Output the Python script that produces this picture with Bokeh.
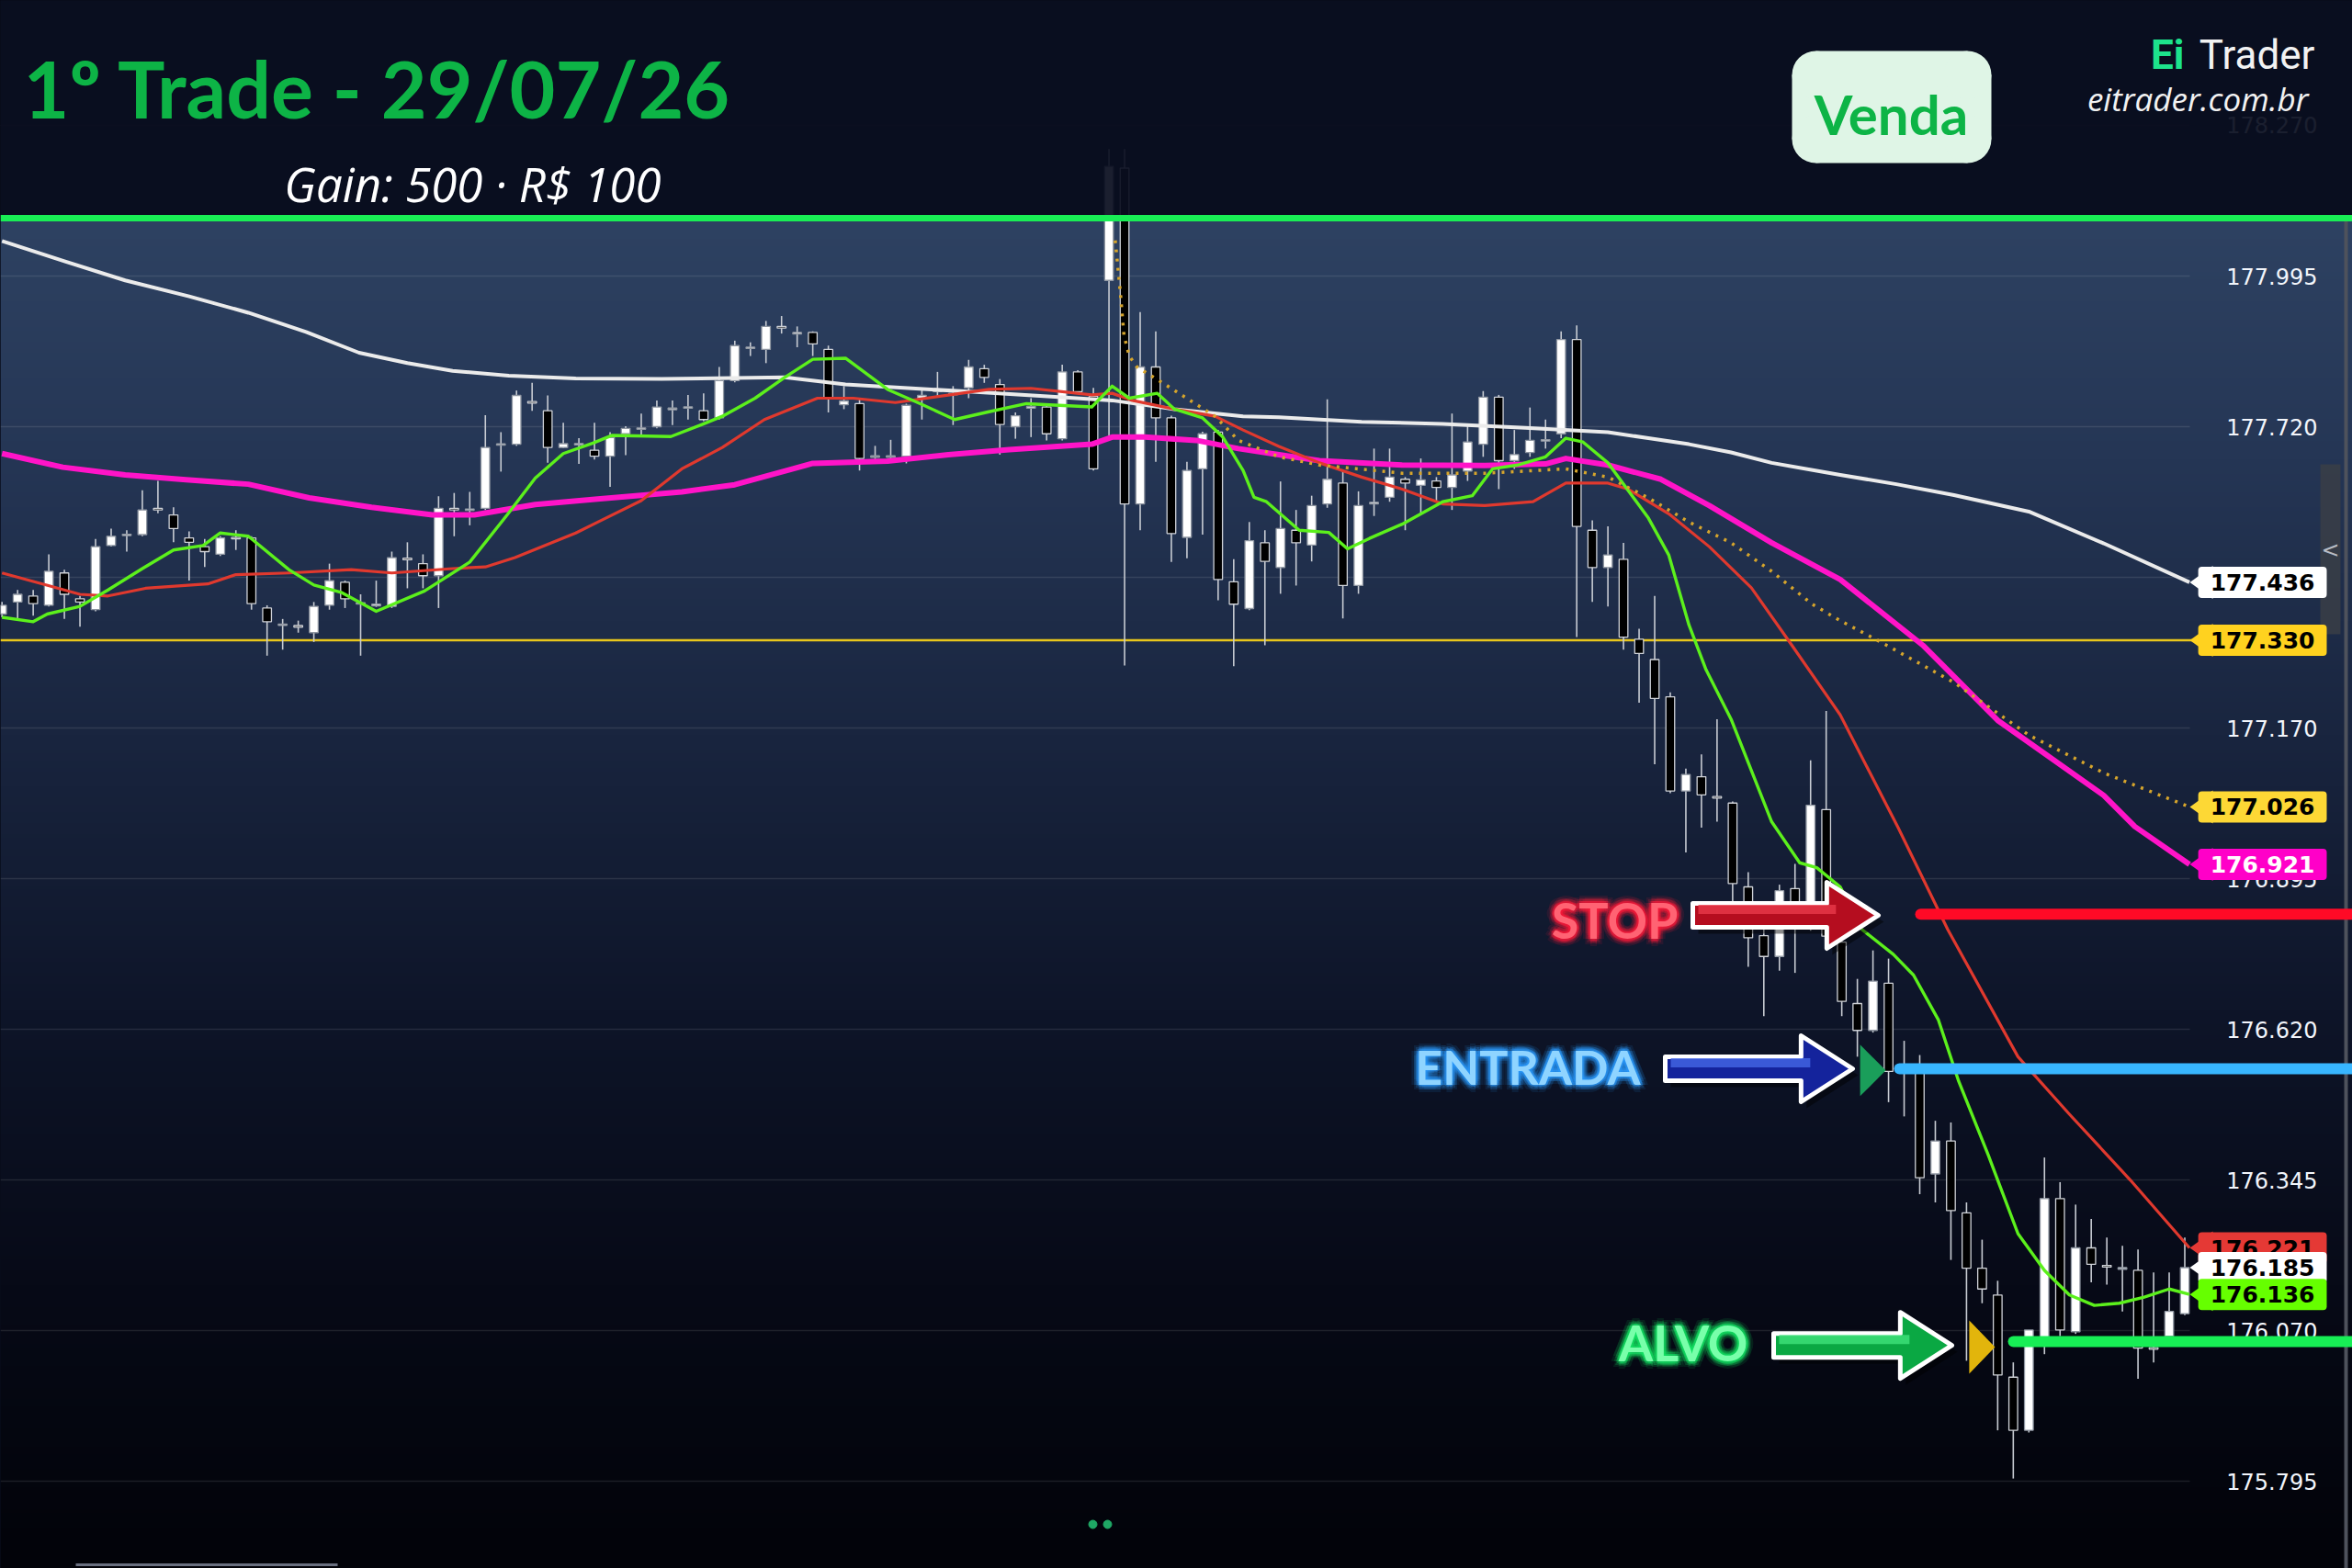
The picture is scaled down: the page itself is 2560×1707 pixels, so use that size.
import numpy as np
from bokeh.plotting import figure
from bokeh.models import Range1d, Label, GlobalInlineStyleSheet
from bokeh.core.properties import value
from bokeh.embed import file_html
from bokeh.resources import INLINE

# ---------------- data ----------------
opens = [177.378, 177.400, 177.411, 177.394, 177.453, 177.406, 177.386, 177.503, 177.522, 177.523,
         177.571, 177.559, 177.517, 177.501, 177.487, 177.517, 177.517, 177.389, 177.358, 177.357,
         177.344, 177.394, 177.436, 177.397, 177.393, 177.392, 177.480, 177.470, 177.448, 177.571,
         177.568, 177.571, 177.687, 177.688, 177.766, 177.749, 177.682, 177.687, 177.677, 177.666,
         177.707, 177.716, 177.720, 177.751, 177.754, 177.749, 177.736, 177.804, 177.863, 177.861,
         177.903, 177.889, 177.892, 177.861, 177.760, 177.762, 177.665, 177.665, 177.666, 177.772,
         177.784, 177.778, 177.791, 177.826, 177.797, 177.720, 177.754, 177.756, 177.698, 177.820,
         177.775, 177.987, 178.192, 177.579, 177.829, 177.736, 177.518, 177.643, 177.710, 177.437,
         177.388, 177.508, 177.463, 177.531, 177.504, 177.579, 177.617, 177.430, 177.579, 177.591,
         177.624, 177.613, 177.621, 177.609, 177.639, 177.688, 177.774, 177.658, 177.673, 177.694,
         177.707, 177.879, 177.531, 177.463, 177.478, 177.332, 177.295, 177.227, 177.055, 177.081,
         177.045, 177.033, 176.880, 176.791, 176.753, 176.877, 176.840, 177.021, 176.779, 176.667,
         176.618, 176.704, 176.547, 176.555, 176.356, 176.416, 176.285, 176.184, 176.135, 175.985,
         175.888, 176.042, 176.311, 176.068, 176.221, 176.189, 176.182, 176.180, 176.039, 176.060,
         176.101]
highs = [177.400, 177.422, 177.422, 177.487, 177.459, 177.411, 177.515, 177.534, 177.531, 177.604,
         177.621, 177.573, 177.529, 177.515, 177.520, 177.531, 177.520, 177.394, 177.369, 177.366,
         177.400, 177.470, 177.439, 177.414, 177.439, 177.492, 177.509, 177.487, 177.593, 177.599,
         177.601, 177.741, 177.710, 177.786, 177.800, 177.777, 177.727, 177.699, 177.727, 177.710,
         177.721, 177.744, 177.768, 177.768, 177.778, 177.781, 177.829, 177.877, 177.874, 177.913,
         177.922, 177.903, 177.894, 177.868, 177.794, 177.772, 177.685, 177.696, 177.762, 177.788,
         177.820, 177.794, 177.842, 177.833, 177.807, 177.746, 177.772, 177.762, 177.833, 177.823,
         177.791, 178.227, 178.227, 177.929, 177.894, 177.740, 177.656, 177.711, 177.714, 177.478,
         177.546, 177.531, 177.620, 177.568, 177.594, 177.770, 177.639, 177.602, 177.680, 177.680,
         177.628, 177.662, 177.628, 177.744, 177.725, 177.785, 177.778, 177.714, 177.755, 177.733,
         177.894, 177.905, 177.549, 177.538, 177.508, 177.351, 177.411, 177.235, 177.096, 177.122,
         177.186, 177.036, 176.907, 176.809, 176.884, 176.922, 177.111, 177.201, 176.877, 176.712,
         176.764, 176.749, 176.599, 176.573, 176.453, 176.450, 176.304, 176.236, 176.161, 176.012,
         176.071, 176.386, 176.341, 176.300, 176.274, 176.240, 176.225, 176.218, 176.176, 176.176,
         176.240]
lows = [177.372, 177.369, 177.375, 177.392, 177.369, 177.355, 177.383, 177.501, 177.492, 177.520,
        177.562, 177.509, 177.439, 177.464, 177.484, 177.495, 177.386, 177.302, 177.313, 177.344,
        177.327, 177.386, 177.389, 177.302, 177.391, 177.389, 177.425, 177.425, 177.389, 177.520,
        177.540, 177.568, 177.638, 177.685, 177.749, 177.654, 177.681, 177.652, 177.660, 177.610,
        177.668, 177.705, 177.717, 177.723, 177.733, 177.730, 177.733, 177.801, 177.849, 177.836,
        177.890, 177.865, 177.849, 177.746, 177.752, 177.640, 177.661, 177.662, 177.653, 177.733,
        177.775, 177.723, 177.772, 177.800, 177.669, 177.698, 177.701, 177.695, 177.695, 177.781,
        177.640, 177.704, 177.284, 177.531, 177.656, 177.473, 177.480, 177.523, 177.403, 177.283,
        177.385, 177.321, 177.415, 177.430, 177.474, 177.572, 177.370, 177.415, 177.557, 177.583,
        177.531, 177.561, 177.583, 177.568, 177.621, 177.665, 177.606, 177.643, 177.665, 177.680,
        177.699, 177.336, 177.400, 177.392, 177.313, 177.216, 177.104, 177.051, 176.943, 176.988,
        176.999, 176.827, 176.734, 176.644, 176.727, 176.723, 176.800, 176.770, 176.644, 176.570,
        176.614, 176.487, 176.461, 176.319, 176.304, 176.199, 176.015, 176.120, 175.888, 175.800,
        175.884, 176.027, 176.060, 176.064, 176.158, 176.154, 176.105, 175.982, 176.012, 176.053,
        176.098]
closes = [177.394, 177.414, 177.397, 177.456, 177.414, 177.400, 177.501, 177.520, 177.523, 177.568,
          177.568, 177.534, 177.509, 177.492, 177.517, 177.516, 177.397, 177.364, 177.359, 177.354,
          177.392, 177.439, 177.406, 177.398, 177.396, 177.481, 177.477, 177.448, 177.571, 177.568,
          177.569, 177.682, 177.688, 177.777, 177.763, 177.682, 177.689, 177.689, 177.666, 177.700,
          177.717, 177.717, 177.756, 177.754, 177.756, 177.733, 177.804, 177.868, 177.865, 177.903,
          177.900, 177.892, 177.871, 177.772, 177.767, 177.662, 177.666, 177.666, 177.759, 177.777,
          177.788, 177.781, 177.829, 177.810, 177.724, 177.740, 177.757, 177.707, 177.820, 177.784,
          177.643, 178.195, 177.579, 177.829, 177.736, 177.525, 177.640, 177.707, 177.441, 177.396,
          177.512, 177.474, 177.534, 177.508, 177.576, 177.624, 177.430, 177.576, 177.582, 177.628,
          177.617, 177.623, 177.609, 177.632, 177.692, 177.774, 177.658, 177.669, 177.695, 177.696,
          177.879, 177.538, 177.463, 177.486, 177.336, 177.306, 177.224, 177.055, 177.085, 177.048,
          177.042, 176.886, 176.787, 176.753, 176.873, 176.850, 177.029, 176.790, 176.671, 176.618,
          176.708, 176.543, 176.551, 176.349, 176.416, 176.289, 176.184, 176.146, 175.989, 175.888,
          176.071, 176.311, 176.071, 176.221, 176.191, 176.186, 176.185, 176.038, 176.036, 176.105,
          176.185]

# moving averages: (bar position, price)
ma_white_x = [0, 4.0, 7.9, 12.0, 15.8, 19.5, 22.9, 26.0, 28.9, 32.5, 36.8, 42.3, 50.2, 54.1, 62.0, 67.3,
              71.2, 75.2, 79.6, 81.9, 87.2, 92.4, 97.7, 103.0, 105.6, 108.2, 110.9, 113.5, 117.9, 121.5,
              125.2, 130.0, 134.8, 140.3]
ma_white_y = [178.059, 178.022, 177.987, 177.958, 177.928, 177.893, 177.855, 177.836, 177.822, 177.813,
              177.808, 177.807, 177.810, 177.797, 177.784, 177.775, 177.768, 177.752, 177.739, 177.737,
              177.729, 177.725, 177.718, 177.710, 177.699, 177.688, 177.673, 177.654, 177.632, 177.615,
              177.595, 177.565, 177.507, 177.436]
ma_magenta_x = [0, 3.9, 7.9, 11.8, 15.8, 19.7, 23.7, 27.6, 30.3, 34.2, 38.2, 43.6, 47.0, 52.0, 56.8,
                60.7, 64.6, 69.9, 71.2, 73.3, 76.6, 79.3, 81.9, 84.5, 89.8, 95.1, 99.0, 100.3, 103.0,
                106.4, 109.5, 113.5, 117.9, 123.2, 128.0, 134.8, 136.8, 140.3]
ma_magenta_y = [177.671, 177.646, 177.632, 177.623, 177.615, 177.590, 177.573, 177.559, 177.559, 177.578,
                177.588, 177.601, 177.614, 177.653, 177.657, 177.669, 177.678, 177.688, 177.701, 177.701,
                177.695, 177.680, 177.669, 177.658, 177.650, 177.649, 177.652, 177.662, 177.650, 177.624,
                177.576, 177.508, 177.441, 177.321, 177.184, 177.047, 176.990, 176.921]
ma_red_x = [0, 2.6, 5.0, 6.8, 9.2, 13.2, 15.0, 18.4, 22.4, 25.0, 28.9, 31.0, 32.9, 36.8, 38.3, 41.0,
            43.6, 46.2, 48.9, 52.3, 54.6, 57.3, 61.0, 63.3, 66.0, 69.9, 71.2, 72.5, 75.2, 77.8, 79.6,
            81.9, 84.5, 87.2, 89.8, 92.4, 95.1, 98.2, 100.3, 103.0, 104.3, 106.9, 109.5, 112.2, 114.8,
            117.9, 121.6, 124.8, 129.3, 132.6, 136.5, 140.3]
ma_red_y = [177.453, 177.433, 177.414, 177.411, 177.425, 177.433, 177.450, 177.453, 177.459, 177.453,
            177.461, 177.464, 177.481, 177.526, 177.547, 177.585, 177.643, 177.682, 177.733, 177.772,
            177.772, 177.764, 177.779, 177.788, 177.790, 177.778, 177.781, 177.768, 177.752, 177.739,
            177.714, 177.684, 177.654, 177.628, 177.606, 177.579, 177.576, 177.583, 177.617, 177.617,
            177.606, 177.561, 177.501, 177.426, 177.321, 177.194, 176.989, 176.802, 176.570, 176.465,
            176.345, 176.221]
ma_green_x = [0, 2.0, 2.9, 5.0, 6.8, 9.0, 11.0, 12.9, 14.0, 15.8, 18.4, 20.0, 21.8, 24.0, 27.1, 30.0,
              32.4, 34.2, 36.0, 37.9, 39.1, 42.9, 44.9, 46.2, 48.3, 50.2, 52.0, 54.1, 56.8, 58.9, 61.1,
              63.1, 65.7, 69.9, 71.2, 72.3, 74.1, 75.2, 77.0, 78.3, 79.6, 80.3, 81.1, 83.2, 85.1, 86.3,
              87.7, 89.8, 92.4, 94.3, 95.6, 97.2, 99.0, 100.3, 101.4, 103.0, 105.6, 106.9, 108.2, 109.3,
              110.9, 113.5, 115.3, 116.4, 117.9, 119.3, 121.3, 122.6, 124.2, 125.5, 127.4, 129.3, 131.0,
              132.6, 134.2, 135.8, 137.4, 139.0, 140.3]
ma_green_y = [177.372, 177.364, 177.378, 177.392, 177.422, 177.461, 177.495, 177.503, 177.526, 177.520,
              177.459, 177.431, 177.417, 177.383, 177.420, 177.473, 177.559, 177.626, 177.671, 177.690,
              177.704, 177.702, 177.724, 177.739, 177.772, 177.810, 177.843, 177.845, 177.788, 177.762,
              177.733, 177.746, 177.762, 177.756, 177.794, 177.772, 177.781, 177.752, 177.736, 177.701,
              177.640, 177.591, 177.583, 177.531, 177.527, 177.497, 177.516, 177.542, 177.583, 177.594,
              177.643, 177.650, 177.665, 177.699, 177.692, 177.654, 177.553, 177.486, 177.358, 177.276,
              177.186, 176.999, 176.924, 176.915, 176.880, 176.802, 176.757, 176.719, 176.637, 176.525,
              176.390, 176.247, 176.180, 176.135, 176.116, 176.120, 176.131, 176.146, 176.136]
ma_dotted_x = [71.4, 71.75, 71.96, 72.3, 72.8, 74.6, 76.2, 77.8, 79.3, 81.9, 84.5, 89.8, 95.1, 100.3,
               103.0, 105.6, 108.2, 110.9, 113.5, 116.1, 117.9, 120.3, 125.2, 130.0, 134.8, 140.3]
ma_dotted_y = [178.060, 177.958, 177.887, 177.849, 177.829, 177.797, 177.768, 177.739, 177.695, 177.665,
               177.650, 177.635, 177.635, 177.643, 177.628, 177.590, 177.546, 177.508, 177.456, 177.396,
               177.366, 177.330, 177.253, 177.157, 177.088, 177.026]

price_ticks = [178.270, 177.995, 177.720, 177.445, 177.170, 176.895, 176.620, 176.345, 176.070, 175.795]
tag_values = [177.436, 177.330, 177.026, 176.921, 176.221, 176.185, 176.136]
tag_labels = ["177.436", "177.330", "177.026", "176.921", "176.221", "176.185", "176.136"]
tag_fill = ["#ffffff", "#ffd21f", "#fdd835", "#ff00c8", "#e53935", "#ffffff", "#66ff00"]
tag_text_color = ["#000000", "#000000", "#000000", "#ffffff", "#000000", "#000000", "#000000"]

level_yellow = 177.330
stop_level = 176.830
entry_level = 176.548
target_level = 176.050
entry_bar, entry_price = 120, 176.545
target_bar, target_price = 127, 176.040

title_text = "1º Trade - 29/07/26"
subtitle_text = "Gain: 500 · R$ 100"
side_text = "Venda"

# ---------------- layout helpers ----------------
W, H = 2560, 1707
STEP = 16.97            # pixels per bar
X0 = -0.1
X1 = X0 + W / STEP
PPP = 596.4             # pixels per price unit
P_REF, Y_REF = 177.995, 300.0
Y_TOP = P_REF + Y_REF / PPP
Y_BOT = P_REF - (H - Y_REF) / PPP


def xr(px):
    return X0 + px / STEP


def yr(py):
    return P_REF - (py - Y_REF) / PPP


HEAD_FONT = "Lato"

p = figure(width=W, height=H, x_range=Range1d(X0, X1), y_range=Range1d(Y_BOT, Y_TOP),
           output_backend="svg", toolbar_location=None, min_border=0,
           x_axis_location=None, y_axis_location=None)
p.outline_line_color = None
p.background_fill_color = "#0a0e1f"
p.border_fill_color = "#0a0e1f"
p.xgrid.visible = False
p.ygrid.visible = False
p.stylesheets = [GlobalInlineStyleSheet(
    css="html,body{margin:0;padding:0;overflow:hidden;background:#070a16;}")]

# background gradient
stops_y = [240, 500, 800, 1100, 1400, 1707]
stops_c = [(46, 66, 98), (37, 54, 85), (25, 37, 63), (14, 21, 41), (7, 10, 23), (2, 3, 9)]
N = 367
ycent = 1707 - (np.arange(N) + 0.5) * (1707 - 240) / N
img = np.zeros((N, 2), dtype=np.uint32)
view = img.view(dtype=np.uint8).reshape((N, 2, 4))
for k in range(3):
    ch = np.interp(ycent, stops_y, [c[k] for c in stops_c])
    view[:, :, k] = ch.astype(np.uint8)[:, None]
view[:, :, 3] = 255
p.image_rgba(image=[img], x=X0, y=yr(1707), dw=X1 - X0, dh=yr(240) - yr(1707))

# grid + tick labels
p.segment(x0=X0, x1=xr(2383), y0=price_ticks, y1=price_ticks, line_color="#ffffff",
          line_alpha=0.10, line_width=1.5)
p.text(x=xr(2522), y=price_ticks, text=[f"{v:.3f}" for v in price_ticks], text_align="right",
       text_baseline="middle", text_font=value("DejaVu Sans"), text_font_size="24px",
       text_color="#f2f5fb")

# right edge scrollbar
p.segment(x0=xr(2553), x1=xr(2553), y0=Y_BOT, y1=yr(240), line_color="#4e525c", line_width=4)
p.quad(left=xr(2525), right=xr(2547), bottom=yr(690), top=yr(505), fill_color="#3a3e47",
       fill_alpha=0.85, line_color=None)
p.text(x=xr(2536), y=yr(598), text=["<"], text_align="center", text_baseline="middle",
       text_font=value("DejaVu Sans"), text_font_size="24px", text_color="#b8bcc4")

# yellow level
p.segment(x0=X0, x1=xr(2386), y0=level_yellow, y1=level_yellow, line_color="#e8c61c", line_width=2.5)

# candles
n = len(opens)
bar = np.arange(n)
o = np.array(opens); c = np.array(closes); hi = np.array(highs); lo = np.array(lows)
top = np.maximum(o, c); bot = np.minimum(o, c)
mid = (top + bot) / 2
small = (top - bot) < 0.0025
top = np.where(small, mid + 0.00125, top)
bot = np.where(small, mid - 0.00125, bot)
up = c >= o
p.segment(x0=bar, x1=bar, y0=hi, y1=lo, line_color="#c8ccd3", line_width=1.6)
p.vbar(x=bar, top=top, bottom=bot, width=0.56,
       fill_color=["#ffffff" if u else "#000000" for u in up],
       line_color=["#9097a2" if u else "#cfd2d8" for u in up], line_width=1.3)

# moving averages
p.line(ma_white_x, ma_white_y, line_color="#ebebeb", line_width=4, line_join="round")
p.line(ma_magenta_x, ma_magenta_y, line_color="#ff14c8", line_width=6, line_join="round")
p.line(ma_red_x, ma_red_y, line_color="#e0392e", line_width=3.2, line_join="round")
p.line(ma_green_x, ma_green_y, line_color="#5cf01c", line_width=3.4, line_join="round")
p.line(ma_dotted_x, ma_dotted_y, line_color="#d6a52c", line_width=3.5, line_dash="3 7")

# header overlay
p.quad(left=X0, right=X1, bottom=yr(234), top=Y_TOP + 0.1, fill_color="#0a0e1f",
       fill_alpha=0.93, line_color=None)
p.segment(x0=X0, x1=X1, y0=yr(237), y1=yr(237), line_color="#19ee55", line_width=7)

# trade levels
p.segment(x0=xr(2090), x1=X1 + 1, y0=stop_level, y1=stop_level, line_color="#ff0a26",
          line_width=12, line_cap="round")
p.segment(x0=xr(2067), x1=X1 + 1, y0=entry_level, y1=entry_level, line_color="#38b6ff",
          line_width=12, line_cap="round")
p.segment(x0=xr(2191), x1=X1 + 1, y0=target_level, y1=target_level, line_color="#17ee55",
          line_width=12, line_cap="round")


# signal triangles
def tri_right(bx, price, w_px, h_px):
    xs = [bx - (w_px / 2) / STEP, bx - (w_px / 2) / STEP, bx + (w_px / 2) / STEP]
    ys = [price + (h_px / 2) / PPP, price - (h_px / 2) / PPP, price]
    return xs, ys


ex, ey = tri_right(entry_bar, entry_price, 28, 56)
p.patch(ex, ey, fill_color="#1a9e5a", line_color=None)
tx, ty = tri_right(target_bar, target_price, 28, 58)
p.patch(tx, ty, fill_color="#e2b50c", line_color=None)


# arrows
def arrow(tail, tip, price, fill, light, shaft=26, head=72):
    base = tip - head * 0.78
    pts = [(tail, shaft / 2), (base, shaft / 2), (base, head / 2), (tip, 0),
           (base, -head / 2), (base, -shaft / 2), (tail, -shaft / 2)]
    for dx, dy, col, alpha, lw in [(6, -7, "#000000", 0.45, 6), (0, 0, fill, 1.0, 5)]:
        xs = [xr(px + dx) for px, _ in pts]
        ys = [price + (py + dy) / PPP for _, py in pts]
        p.patch(xs, ys, fill_color=col, fill_alpha=alpha,
                line_color="#ffffff" if alpha == 1.0 else None, line_width=lw, line_join="round")
    p.segment(x0=xr(tail + 6), x1=xr(base + 10), y0=price + (shaft / 4) / PPP,
              y1=price + (shaft / 4) / PPP, line_color=light, line_width=shaft / 2.6, line_alpha=0.8)


arrow(1842, 2044, 176.828, "#b50d1f", "#e8394a")
arrow(1812, 2016, 176.548, "#14239c", "#4466e6")
arrow(1930, 2124, 176.043, "#0aa843", "#3ee27a")


# glowing words (right edge just before each arrow)
def glow(text, xpx, ypx, core, halo, size):
    for r, a in [(8, 0.10), (5, 0.18), (2.5, 0.30)]:
        for k in range(8):
            ang = k * np.pi / 4
            p.add_layout(Label(x=xr(xpx), y=yr(ypx), x_offset=r * np.cos(ang), y_offset=r * np.sin(ang),
                               text=text, text_color=halo, text_alpha=a, text_font=HEAD_FONT,
                               text_font_style="bold", text_font_size=f"{size}px",
                               text_align="right", text_baseline="middle"))
    p.add_layout(Label(x=xr(xpx), y=yr(ypx), text=text, text_color=core, text_font=HEAD_FONT,
                       text_font_style="bold", text_font_size=f"{size}px",
                       text_align="right", text_baseline="middle"))


glow("STOP", 1826, 1001, "#ff6373", "#ff1a3a", 54)
glow("ENTRADA", 1785, 1160, "#8fd4ff", "#2a9dff", 52)
glow("ALVO", 1902, 1461, "#78ffaa", "#14e866", 54)

# right-side value tags
pxs, pys = [], []
for v in tag_values:
    pxs.append([xr(2383), xr(2408), xr(2408)])
    pys.append([v, v + 18 / PPP, v - 18 / PPP])
p.patches(pxs, pys, fill_color=tag_fill, line_color=None)
p.text(x=xr(2532), y=tag_values, text=tag_labels, text_align="right", text_baseline="middle",
       text_font=value("DejaVu Sans"), text_font_style="bold", text_font_size="25px",
       text_color=tag_text_color, background_fill_color=tag_fill, padding=(13, 8), border_radius=4)

# bottom decorations
p.scatter(x=[xr(1189), xr(1205)], y=[yr(1659), yr(1659)], size=9, color="#1fa865")
p.segment(x0=xr(82), x1=xr(367), y0=yr(1703), y1=yr(1703), line_color="#6a7080", line_width=3)

# "Venda" badge: rounded box from two quads and four corner discs
BL, BR, BT, BB, RAD = 1950, 2167, 55, 177, 26
p.quad(left=xr(BL + RAD), right=xr(BR - RAD), top=yr(BT), bottom=yr(BB), fill_color="#dff5e6",
       line_color=None)
p.quad(left=xr(BL), right=xr(BR), top=yr(BT + RAD), bottom=yr(BB - RAD), fill_color="#dff5e6",
       line_color=None)
p.scatter(x=[xr(BL + RAD), xr(BR - RAD), xr(BL + RAD), xr(BR - RAD)],
          y=[yr(BT + RAD), yr(BT + RAD), yr(BB - RAD), yr(BB - RAD)],
          size=2 * RAD, marker="circle", fill_color="#dff5e6", line_color=None)


# header texts (positioned by their baseline in the reference)
def head_label(text, xpx, base_px, size, color, font, style="normal", align="left"):
    p.add_layout(Label(x=xr(xpx), y=yr(base_px - 0.35 * size), text=text, text_font=font,
                       text_font_style=style, text_font_size=f"{size}px", text_color=color,
                       text_align=align, text_baseline="middle"))


head_label(title_text, 25, 125, 86, "#0db446", HEAD_FONT, "bold")
head_label(subtitle_text, 719, 217, 51, "#ffffff", "Open Sans", "italic", "right")
head_label(side_text, 2058, 144, 60, "#0db446", HEAD_FONT, "bold", "center")
head_label("Trader", 2519, 75, 44, "#f2f2f2", "Roboto", "normal", "right")
head_label("Ei", 2377, 75, 44, "#1de38c", "Roboto", "bold", "right")
head_label("eitrader.com.br", 2512, 119, 35, "#f2f2f2", "Open Sans", "italic", "right")

open("out.html", "w").write(file_html(p, INLINE))
